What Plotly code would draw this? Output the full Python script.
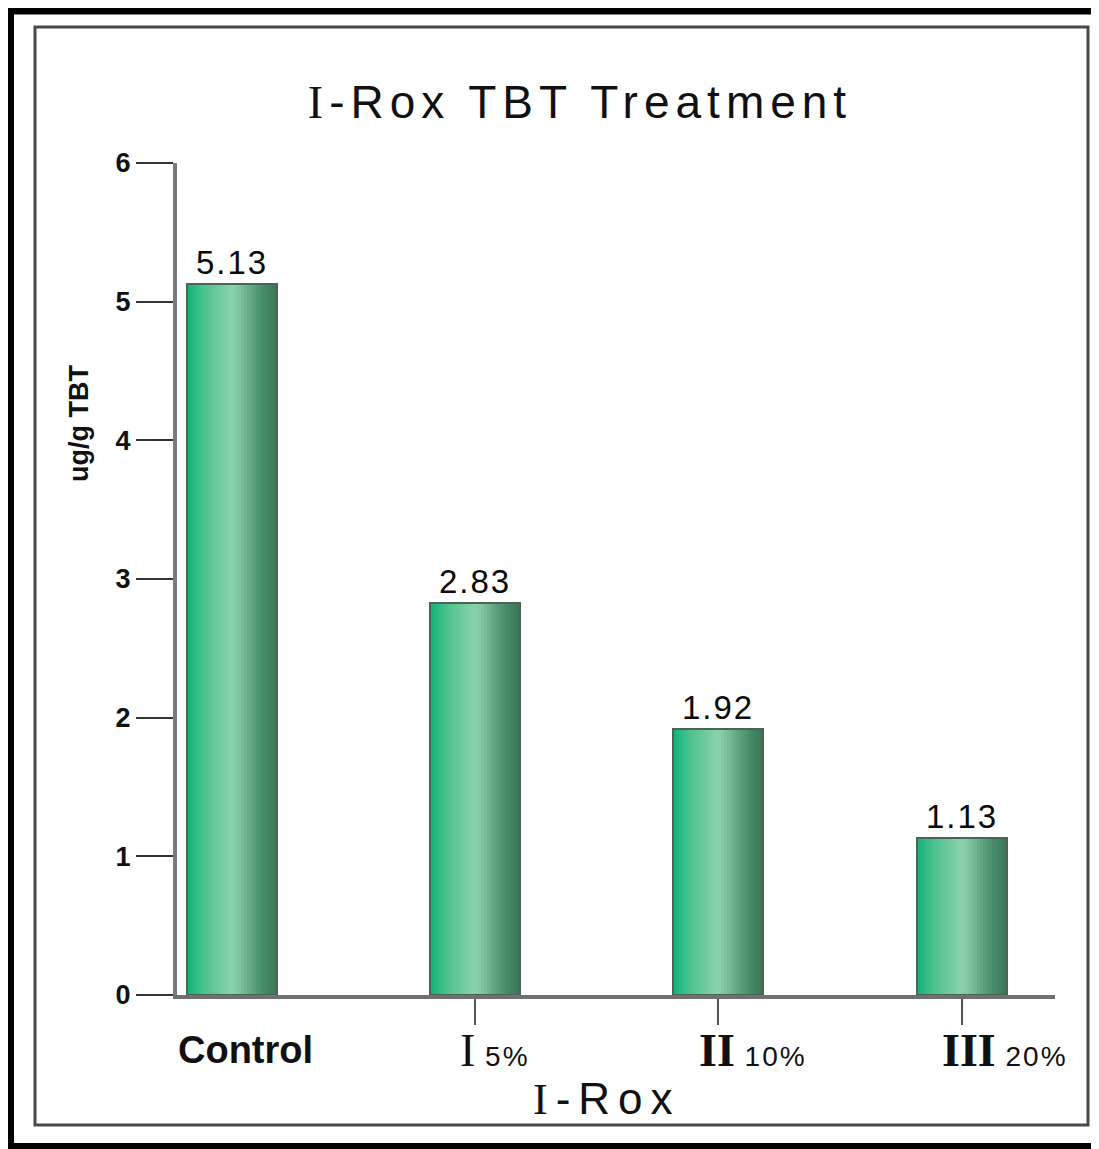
import plotly.graph_objects as go

# ---- data ----
categories = ["Control", "I 5%", "II 10%", "III 20%"]
values = [5.13, 2.83, 1.92, 1.13]
numerals = ["", "I", "II", "III"]
pcts = ["", "5%", "10%", "20%"]
y_ticks = [0, 1, 2, 3, 4, 5, 6]

# page body has an 8px margin; work in reference pixel coords and shift
OFF = 8
W, H = 1099 - OFF, 1149 - OFF
PL, PR, PT, PB = 177, 1055, 163, 995          # plot area in reference pixels
L, R, T, B = PL - OFF, W - (PR - OFF), PT - OFF, H - (PB - OFF)
PW, PH = PR - PL, PB - PT


def px(x):
    return (x - PL) / PW


def py(y):
    return (PB - y) / PH


fig = go.Figure()

# gradient bars built from thin slices
stops = [(0.0, (22, 176, 120)), (0.08, (40, 186, 130)), (0.2, (80, 195, 144)),
         (0.35, (110, 202, 156)), (0.5, (138, 211, 173)), (0.6, (122, 193, 155)),
         (0.72, (92, 166, 128)), (0.85, (70, 140, 105)), (1.0, (56, 118, 85))]


def grad(t):
    for (t0, c0), (t1, c1) in zip(stops[:-1], stops[1:]):
        if t0 <= t <= t1:
            f = (t - t0) / (t1 - t0) if t1 > t0 else 0
            c = [round(a + (b - a) * f) for a, b in zip(c0, c1)]
            return "rgb(%d,%d,%d)" % tuple(c)
    return "rgb(%d,%d,%d)" % stops[-1][1]


BW = 0.37
N = 30
sw = BW / N
for k in range(N):
    fig.add_trace(go.Bar(
        x=categories, y=values, width=sw * 1.15, offset=-BW / 2 + k * sw,
        marker=dict(color=grad((k + 0.5) / N), line=dict(width=0)),
        showlegend=False, hoverinfo="skip"))

fig.add_trace(go.Bar(
    x=categories, y=values, width=BW,
    marker=dict(color="rgba(0,0,0,0)", line=dict(color="#4b6456", width=2)),
    texttemplate="<span style='letter-spacing:2px'>%{y:.2f}</span>",
    textposition="outside", cliponaxis=False,
    textfont=dict(family="Liberation Sans", size=33, color="#0a0a0a"),
    showlegend=False))

annotations = []
# category labels
ann_font = dict(family="Liberation Sans", size=28, color="#111")
annotations.append(dict(x=categories[0], y=0, xref="x", yref="y",
                        text="<b>Control</b>", showarrow=False,
                        font=dict(family="Liberation Sans", size=38, color="#111"),
                        xanchor="center", yanchor="middle", xshift=14, yshift=-55))
shifts = [0, -17, -21, -22]
for i in range(1, 4):
    weight = "bold" if i > 1 else "normal"
    txt = ("<span style='font-family:Liberation Serif;font-size:46px;font-weight:%s'>%s</span>"
           "<span style='letter-spacing:2px'> %s</span>" % (weight, numerals[i], pcts[i]))
    annotations.append(dict(x=categories[i], y=0, xref="x", yref="y", text=txt,
                            showarrow=False, font=ann_font, xanchor="left",
                            yanchor="middle", xshift=shifts[i], yshift=-55))

# x axis title
annotations.append(dict(x=px(607), y=py(1099), xref="paper", yref="paper",
                        text="<span style='letter-spacing:8px'><span style='font-family:Liberation Serif'>I</span>-Rox</span>",
                        showarrow=False, font=dict(family="Liberation Sans", size=44, color="#111"),
                        xanchor="center", yanchor="middle"))
# y axis title
annotations.append(dict(x=px(79), y=py(424), xref="paper", yref="paper",
                        text="<b>ug/g TBT</b>", textangle=-90, showarrow=False,
                        font=dict(family="Liberation Sans", size=27, color="#111"),
                        xanchor="center", yanchor="middle"))

shapes = [
    dict(type="rect", xref="paper", yref="paper", x0=px(9.5), x1=px(1115),
         y0=py(10), y1=py(1147.5), line=dict(color="black", width=9)),
    dict(type="rect", xref="paper", yref="paper", x0=px(35), x1=px(1088),
         y0=py(27), y1=py(1125), line=dict(color="#4a4a4a", width=3)),
]

fig.update_layout(
    width=W, height=H,
    margin=dict(l=L, r=R, t=T, b=B),
    paper_bgcolor="white", plot_bgcolor="white",
    barmode="overlay", bargap=0,
    title=dict(text="<span style='letter-spacing:6px'><span style='font-family:Liberation Serif'>I</span>-Rox TBT Treatment</span>",
               x=(580 - OFF) / W, xanchor="center", y=1 - (102 - OFF) / H, yanchor="middle",
               xref="container", yref="container",
               font=dict(family="Liberation Sans", size=46, color="#111")),
    xaxis=dict(type="category", range=[-0.225, 3.383], showline=True,
               linecolor="#707070", linewidth=4, showgrid=False, zeroline=False,
               tickmode="array", tickvals=categories[1:], ticks="outside",
               ticklen=26, tickwidth=2, tickcolor="#555", showticklabels=False),
    yaxis=dict(range=[0, 6], tickvals=y_ticks, ticks="outside", ticklen=37,
               tickwidth=2, tickcolor="#333", showline=True, linecolor="#7a7a7a",
               linewidth=4, showgrid=False, zeroline=False,
               tickfont=dict(family="Liberation Sans", size=27, color="#111", weight="bold")),
    annotations=annotations, shapes=shapes,
)

fig.write_html("out.html")
